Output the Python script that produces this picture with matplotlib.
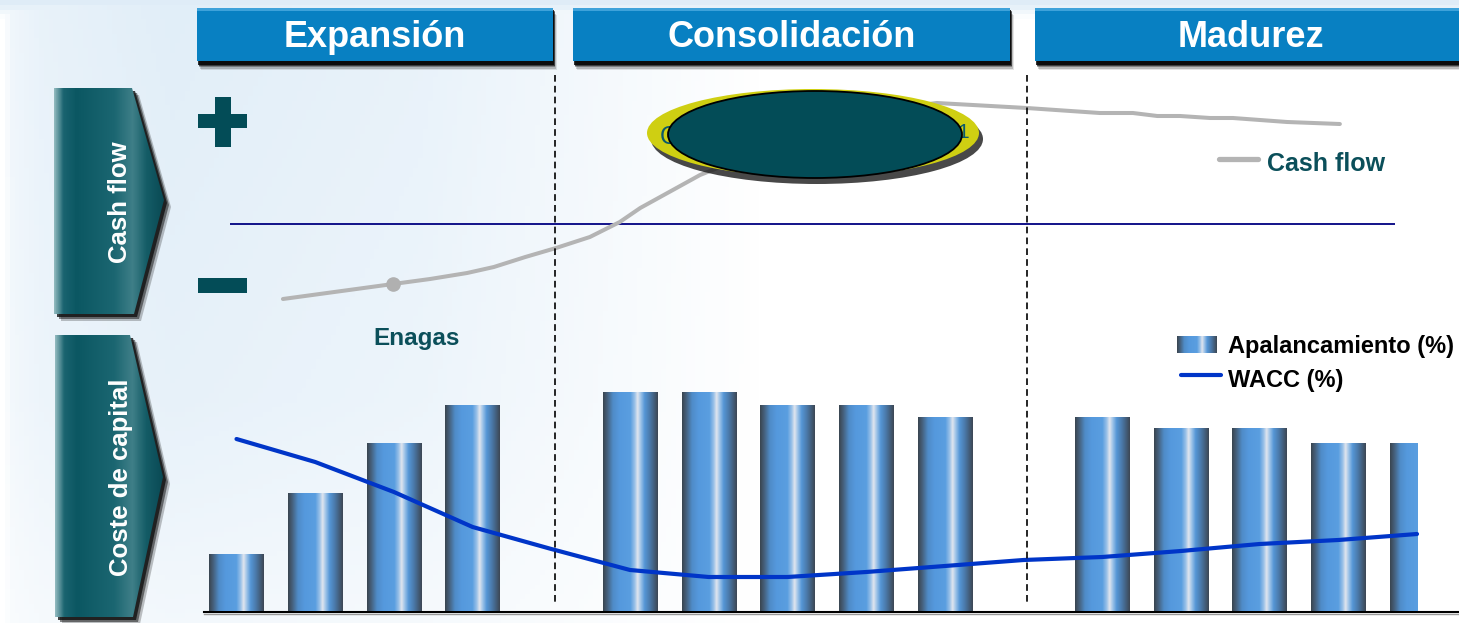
import numpy as np
import matplotlib
matplotlib.use('Agg')
import matplotlib.pyplot as plt
from matplotlib.colors import LinearSegmentedColormap, to_rgb
from matplotlib.patches import Polygon, Ellipse, Rectangle

plt.rcParams['font.family'] = ['Liberation Sans', 'DejaVu Sans']

# ---- data ----
phases = ['Expansión', 'Consolidación', 'Madurez']
bar_pos = [0, 1, 2, 3, 5, 6, 7, 8, 9, 11, 12, 13, 14, 15]
apalancamiento = [15, 31, 44, 54, 57.5, 57.5, 54, 54, 51, 51, 48, 48, 44, 44]
wacc_pos = list(range(16))
wacc = [8.6, 7.45, 5.95, 4.2, 3.1, 2.05, 1.7, 1.7, 1.95, 2.25, 2.55, 2.7, 3.0, 3.35, 3.55, 3.85]
cf_x = [0.59, 1.99, 2.46, 2.93, 3.27, 3.67, 4.06, 4.49, 4.87, 5.13, 5.89, 7.16, 8.18,
        8.90, 10.04, 10.97, 11.39, 11.70, 11.99, 12.37, 12.66, 13.35, 14.02]
cf_y = [-7.5, -6.0, -5.5, -4.9, -4.3, -3.3, -2.4, -1.3, 0.2, 1.6, 4.9, 8.9, 11.4,
        12.1, 11.6, 11.1, 11.1, 10.8, 10.8, 10.6, 10.6, 10.2, 10.0]
cf_marker = 1  # Enagas
phase_breaks = [4.05, 10.05]

W, H = 1459, 623
TEAL = '#034c57'

fig = plt.figure(figsize=(W / 100, H / 100), dpi=100)

def fbox(x0, y0, x1, y1):
    # pixel box (top-left origin) -> figure fraction
    return [x0 / W, 1 - y1 / H, (x1 - x0) / W, (y1 - y0) / H]

# background / decoration layer in pixel coords
bg = fig.add_axes([0, 0, 1, 1], zorder=0)
bg.set_xlim(0, W)
bg.set_ylim(H, 0)
bg.axis('off')

xx = np.linspace(0, W, 300)
yy = np.linspace(0, H, 130)
wx = np.interp(xx, [0, 10, 40, 170, 420, 760, W], [0, 0.45, 0.65, 0.85, 0.65, 0.0, 0.0])
wy = np.interp(yy, [0, 8, 16], [0.9, 0.5, 0])
wgt = np.maximum(wx[None, :] * np.interp(yy, [0, 400, H], [1, 0.8, 0.4])[:, None], wy[:, None])
pale = np.array(to_rgb('#dcebf7'))
img = 1 - wgt[..., None] * (1 - pale)
bg.imshow(img, extent=(0, W, H, 0), aspect='auto', zorder=0)

# phase headers
headers = [(197, 553), (573, 1010), (1035, 1467)]
for (x0, x1), name in zip(headers, phases):
    for k, a in enumerate([0.1, 0.18, 0.3, 0.5, 0.8]):
        off = 7 - k * 1.3
        bg.add_patch(Rectangle((x0 + off * 0.5, 8 + off), x1 - x0, 55, color='black', alpha=a, lw=0, zorder=1))
    bg.add_patch(Rectangle((x0, 8), x1 - x0, 53, color='#0880c2', lw=0, zorder=2))
    bg.add_patch(Rectangle((x0, 8), x1 - x0, 3, color='#3ea2da', lw=0, zorder=2))
    bg.text((x0 + x1) / 2, 47, name, color='white', fontsize=26, fontweight='bold',
            ha='center', va='baseline', zorder=3)

# side chevrons
arrow_cmap = LinearSegmentedColormap.from_list('arr', [
    (0.0, '#8fb8bd'), (0.08, '#1a6470'), (0.2, '#0b5762'), (0.55, '#1b6671'),
    (0.72, '#3f7f88'), (0.85, '#145c66'), (1.0, '#0a4a55')])
side = [([(54, 88), (132, 88), (164, 200), (134, 314), (54, 314)], 'Cash flow', (120, 202)),
        ([(55, 335), (130, 335), (163, 477), (133, 617), (55, 617)], 'Coste de capital', (121, 477))]
for verts, label, (tx, ty) in side:
    for off, a in [(7, 0.25), (5, 0.5), (3, 0.8)]:
        sh = [(x + off, y + off) for x, y in verts]
        bg.add_patch(Polygon(sh, closed=True, color='#101010', alpha=a, lw=0, zorder=1))
    poly = Polygon(verts, closed=True, fc='none', lw=0, zorder=2)
    bg.add_patch(poly)
    xs = [v[0] for v in verts]
    ys = [v[1] for v in verts]
    im = bg.imshow(np.linspace(0, 1, 100)[None, :], cmap=arrow_cmap, aspect='auto',
                   extent=(min(xs), max(xs), max(ys), min(ys)), zorder=2)
    im.set_clip_path(poly)
    bg.text(tx, ty, label, color='white', fontsize=18.5, fontweight='bold', rotation=90,
            ha='center', va='center', zorder=3)

# plus / minus signs
bg.add_patch(Rectangle((198, 114), 49, 14, color=TEAL, lw=0, zorder=2))
bg.add_patch(Rectangle((215, 97), 16, 50, color=TEAL, lw=0, zorder=2))
bg.add_patch(Rectangle((198, 278), 49, 15, color=TEAL, lw=0, zorder=2))

# base line of the bar chart
bg.plot([204, W], [613.5, 613.5], color='#9a9a9a', lw=1.0, zorder=1)
bg.plot([204, W], [611.5, 611.5], color='black', lw=1.5, zorder=1)

# ---- bar chart (Apalancamiento) + WACC ----
ax = fig.add_axes(fbox(204, 330, 1417, 611), zorder=2)
ax.patch.set_alpha(0)
ax.axis('off')

bar_cmap = LinearSegmentedColormap.from_list('bar', [
    (0.0, '#3a4550'), (0.08, '#46627f'), (0.18, '#4f8cc8'), (0.3, '#5599dd'),
    (0.5, '#5a9ee0'), (0.58, '#9cc2e8'), (0.63, '#e2e6ee'), (0.69, '#9cc2e8'),
    (0.76, '#5596d6'), (0.86, '#4a78a8'), (1.0, '#3d4855')])
grad = np.linspace(0, 1, 200)[None, :]
bars = ax.bar(bar_pos, apalancamiento, width=0.69, color='none', lw=0)
for r in bars:
    x0, w, h = r.get_x(), r.get_width(), r.get_height()
    ax.imshow(grad, cmap=bar_cmap, aspect='auto', extent=(x0, x0 + w, 0, h), zorder=2)
ax.set_xlim(-0.413, 15.0)
ax.set_ylim(0, 281 / 3.8)

axw = ax.twinx()
axw.set_ylim(0, 281 / 20)
axw.axis('off')
axw.plot(wacc_pos, wacc, color='#0035c8', lw=3.0, solid_capstyle='round', clip_on=False, zorder=3)

# ---- cash flow ----
axc = fig.add_axes(fbox(204, 85, 1417, 320), zorder=3)
axc.set_xlim(-0.413, 15.0)
axc.set_ylim(-9.6, 13.9)
axc.patch.set_alpha(0)
axc.axis('off')
axc.hlines(0, -0.08, 14.72, color='#000080', lw=1.3, clip_on=False)
axc.plot(cf_x, cf_y, color='#b4b4b4', lw=2.9, solid_capstyle='round', clip_on=False)
axc.plot(cf_x[cf_marker], cf_y[cf_marker], 'o', color='#b0b0b0', ms=9.5)

# ---- top layer: ellipse, labels, legends ----
top = fig.add_axes([0, 0, 1, 1], zorder=5)
top.axis('off')
top.patch.set_alpha(0)

for x0 in phase_breaks:
    px = 204 + (x0 + 0.413) * (1417 - 204) / 15.413
    top.plot([px, px], [75, 605], color='black', lw=1.2, ls=(0, (4, 2.5)), zorder=1)

top.add_patch(Ellipse((817, 139), 332, 90, color='#1a1a1a', alpha=0.8, lw=0, zorder=2))
top.add_patch(Ellipse((813, 133), 332, 88, color='#cfcf12', lw=0, zorder=3))
top.text(660, 137, 'C', color='#0b5a6b', fontsize=18, ha='left', va='center', zorder=4)
top.text(969, 133, '1', color='#0b5a6b', fontsize=15, ha='right', va='center', zorder=4)
top.add_patch(Ellipse((815, 134.5), 294, 87, fc=TEAL, ec='black', lw=1.3, zorder=5))

top.text(417, 338, 'Enagas', color='#0b4f5a', fontsize=17.5, fontweight='bold',
         ha='center', va='center', zorder=4)

# cash flow legend
top.plot([1219, 1258], [159, 159], color='#b4b4b4', lw=3.8, solid_capstyle='round', zorder=4)
top.text(1267, 164, 'Cash flow', color='#0b4f5a', fontsize=18, fontweight='bold',
         ha='left', va='center', zorder=4)

# bar / wacc legend
top.imshow(grad, cmap=bar_cmap, aspect='auto', extent=(1177, 1217, 353, 336), zorder=4)
top.text(1228, 346, 'Apalancamiento (%)', color='black', fontsize=17, fontweight='bold',
         ha='left', va='center', zorder=4)
top.plot([1181, 1221], [375, 375], color='#0035c8', lw=3.0, solid_capstyle='round', zorder=4)
top.text(1228, 381, 'WACC (%)', color='black', fontsize=17, fontweight='bold',
         ha='left', va='center', zorder=4)
top.set_xlim(0, W)
top.set_ylim(H, 0)

fig.savefig('out.png', dpi=100)
